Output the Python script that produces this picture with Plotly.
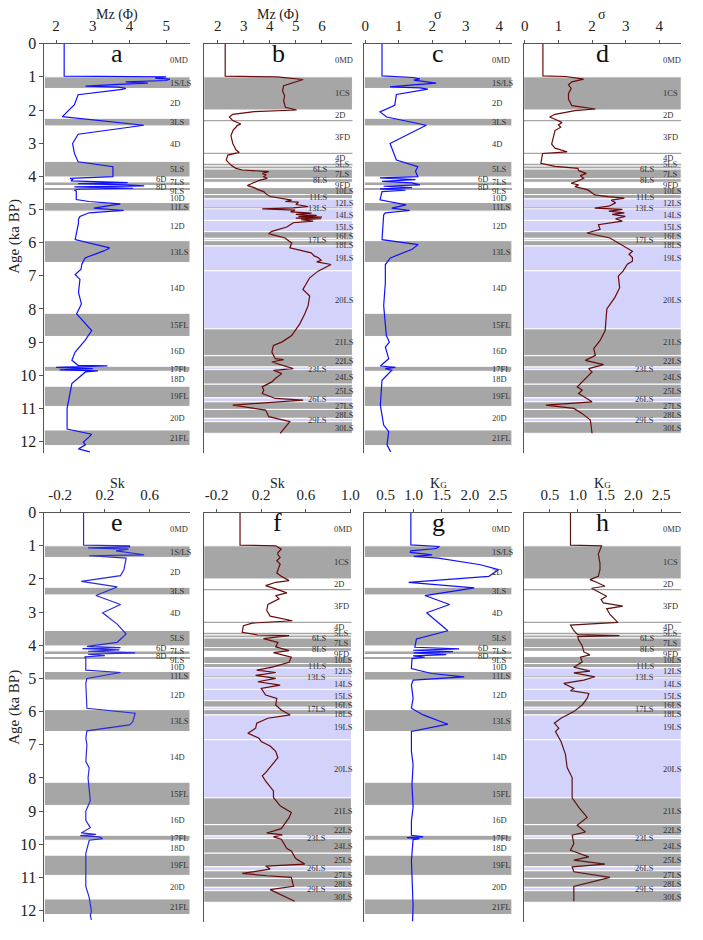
import plotly.graph_objects as go

W, H = 703, 940

# ---------------- data ----------------
# Panel a : Mz (phi), left section
a_age = [0, 0.98, 1.0, 1.04, 1.07, 1.11, 1.15, 1.19, 1.23, 1.28, 1.31, 1.35, 1.38, 1.54, 1.84, 2.2, 2.46, 2.73,
         3.01, 3.31, 3.56, 3.71, 4.01, 4.06, 4.1, 4.14, 4.19, 4.22, 4.26, 4.29, 4.32, 4.36, 4.39, 4.42, 4.45, 4.7,
         4.76, 4.83, 4.96, 5.03, 5.1, 5.21, 5.3, 5.41, 5.91, 6.16, 6.25, 6.46, 6.66, 6.8, 6.96, 7.11, 7.5, 7.85,
         8.15, 8.65, 8.95, 9.3, 9.55, 9.7, 9.72, 9.76, 9.8, 9.84, 9.87, 9.9, 10.25, 11.0, 11.62, 11.78, 11.86,
         12.02, 12.1, 12.22, 12.31]
a_val = [2.22, 2.22, 5.0, 4.7, 5.1, 5.0, 3.9, 4.5, 3.7, 2.8, 3.7, 3.9, 3.8, 2.6, 2.5, 2.17, 4.39, 2.6,
         2.45, 2.5, 2.6, 3.55, 3.55, 2.38, 2.45, 2.4, 3.95, 2.6, 3.9, 4.4, 2.5, 4.1, 2.6, 2.5, 2.55, 2.55,
         2.9, 3.75, 3.03, 3.84, 2.9, 2.65, 2.61, 2.61, 2.52, 3.46, 3.3, 2.79, 2.7, 2.68, 2.52, 2.65, 2.61, 2.69,
         2.56, 2.97, 2.79, 2.52, 2.43, 2.6, 3.4, 2.0, 3.0, 2.1, 3.14, 2.8, 2.43, 2.3, 2.3, 2.97, 2.9,
         2.74, 2.8, 2.61, 2.92]

# Panel b : Mz (phi), right section
b_age = [0, 0.98, 1.0, 1.08, 1.27, 1.42, 1.57, 1.72, 1.92, 2.0, 2.05, 2.13, 2.21, 2.32, 2.42, 2.47, 2.52, 2.6,
         2.77, 2.9, 3.01, 3.1, 3.2, 3.28, 3.36, 3.51, 3.66, 3.76, 3.81, 3.86, 3.91, 3.96, 4.01, 4.06, 4.12, 4.21,
         4.28, 4.34, 4.4, 4.46, 4.53, 4.61, 4.65, 4.68, 4.72, 4.76, 4.78, 4.85, 4.91, 4.95, 4.98, 5.02, 5.07,
         5.11, 5.15, 5.18, 5.21, 5.23, 5.26, 5.28, 5.31, 5.35, 5.4, 5.45, 5.53, 5.66, 5.73, 5.86, 6.01, 6.16,
         6.31, 6.4, 6.45, 6.53, 6.58, 6.66, 6.86, 7.06, 7.41, 7.61, 7.9, 8.15, 8.45, 8.8, 9.0, 9.1, 9.3, 9.5,
         9.53, 9.6, 9.8, 9.85, 9.95, 10.1, 10.2, 10.35, 10.45, 10.55, 10.7, 10.75, 10.9, 11.05, 11.25, 11.4, 11.75]
b_val = [2.29, 2.29, 4.28, 5.28, 4.53, 4.49, 4.57, 4.53, 4.6, 5.03, 3.4, 2.58, 2.45, 2.58, 2.89, 2.75, 2.7, 2.6,
         2.51, 2.55, 2.58, 2.64, 2.7, 2.83, 2.39, 2.33, 2.51, 2.7, 2.95, 3.96, 3.71, 3.85, 3.77, 3.9, 3.6, 3.33,
         3.14, 3.4, 3.55, 3.77, 3.85, 4.02, 4.3, 4.46, 4.84, 4.6, 5.1, 5.0, 5.47, 4.9, 3.71, 4.97, 4.8,
         5.6, 5.0, 5.8, 5.1, 6.0, 5.0, 5.97, 5.2, 5.66, 4.9, 4.8, 4.65, 4.08, 3.96, 4.58, 4.84, 4.77,
         5.59, 5.7, 5.85, 5.97, 5.8, 6.35, 5.85, 5.53, 5.27, 5.53, 5.47, 5.34, 5.15, 4.84, 4.46, 4.14, 4.08, 4.21,
         4.53, 4.08, 4.9, 4.14, 4.46, 4.21, 4.08, 3.71, 3.77, 3.71, 4.21, 5.28, 2.58, 3.84, 3.96, 4.77, 4.4]

# Panel c : sorting (sigma), left section
c_age = [0, 0.97, 1.02, 1.06, 1.1, 1.19, 1.24, 1.3, 1.33, 1.37, 1.53, 1.86, 2.06, 2.21, 2.46, 3.01, 3.51, 3.71,
         3.85, 4.01, 4.05, 4.1, 4.15, 4.2, 4.26, 4.3, 4.34, 4.38, 4.42, 4.46, 4.71, 4.86, 4.96, 5.03, 5.1, 5.16,
         5.91, 6.06, 6.2, 6.46, 6.66, 7.2, 7.9, 8.8, 9.0, 9.15, 9.5, 9.72, 9.76, 9.8, 9.85, 10.15, 10.9, 11.5,
         11.7, 12.1, 12.31]
c_val = [0.5, 0.5, 1.43, 1.63, 1.45, 2.12, 1.43, 0.74, 1.63, 1.87, 0.93, 0.88, 0.44, 0.64, 1.82, 0.74, 0.93, 1.57,
         1.5, 1.57, 0.44, 1.5, 0.5, 1.4, 1.63, 0.55, 1.4, 0.44, 1.2, 0.5, 0.44, 1.22, 0.79, 1.33, 0.6, 0.55,
         0.5, 1.58, 1.4, 0.75, 0.6, 0.6, 0.55, 0.63, 0.72, 0.6, 0.7, 0.45, 0.9, 0.6, 0.79, 0.5, 0.45, 0.55,
         0.7, 0.65, 0.76]

# Panel d : sorting (sigma), right section
d_age = [0, 0.97, 0.99, 1.07, 1.15, 1.24, 1.35, 1.5, 1.67, 1.87, 1.97, 2.02, 2.13, 2.21, 2.3, 2.38, 2.45, 2.52,
         2.62, 2.8, 3.03, 3.15, 3.26, 3.31, 3.61, 3.7, 3.76, 3.83, 3.91, 3.98, 4.06, 4.15, 4.21, 4.26, 4.31, 4.41,
         4.56, 4.61, 4.66, 4.72, 4.8, 4.9, 4.96, 5.0, 5.05, 5.1, 5.15, 5.21, 5.28, 5.35, 5.46, 5.6, 5.71, 5.86,
         6.11, 6.26, 6.35, 6.45, 6.56, 6.65, 6.86, 7.01, 7.36, 7.65, 8.0, 8.65, 8.95, 9.2, 9.4, 9.55, 9.68, 9.8,
         9.9, 10.05, 10.2, 10.35, 10.45, 10.55, 10.8, 10.9, 11.0, 11.15, 11.35, 11.75]
d_val = [0.54, 0.54, 1.22, 1.75, 1.4, 1.3, 1.38, 1.3, 1.3, 1.4, 2.1, 1.49, 0.9, 0.74, 0.95, 1.11, 1.0, 1.07,
         0.9, 0.85, 0.8, 0.9, 1.26, 0.53, 0.48, 0.9, 1.58, 1.6, 1.83, 1.65, 1.75, 1.55, 1.38, 1.6, 1.49, 1.88,
         2.08, 2.47, 2.96, 2.57, 2.7, 2.5, 2.08, 2.9, 2.5, 2.96, 2.6, 2.99, 2.7, 2.9, 2.19, 2.24, 1.85, 2.53,
         2.97, 3.2, 3.1, 3.2, 3.2, 3.05, 2.92, 2.78, 2.82, 2.68, 2.44, 2.39, 2.24, 2.05, 2.1, 1.8, 2.34, 1.9,
         2.0, 1.85, 1.7, 1.56, 1.71, 1.6, 2.0, 0.63, 1.46, 1.7, 1.95, 2.0]

# Panel e : skewness (Sk), left section
e_age = [0, 0.98, 1.0, 1.03, 1.06, 1.1, 1.15, 1.2, 1.27, 1.3, 1.37, 1.72, 1.9, 2.07, 2.24, 2.5, 2.77, 3.02, 3.36,
         3.66, 3.91, 4.03, 4.07, 4.1, 4.14, 4.18, 4.23, 4.27, 4.31, 4.35, 4.4, 4.75, 4.82, 5.0, 5.15, 5.9, 6.05,
         6.3, 6.4, 6.58, 6.8, 7.0, 7.5, 7.7, 8.0, 8.69, 9.0, 9.28, 9.5, 9.66, 9.7, 9.74, 9.78, 9.83, 9.88, 10.28,
         11.27, 11.6, 12.02, 12.15, 12.28]
e_val = [0.01, 0.01, 0.42, 0.42, 0.05, 0.41, 0.3, 0.4, 0.55, 0.06, 0.39, 0.37, 0.34, -0.01, 0.31, 0.12, 0.34, 0.18,
         0.31, 0.39, 0.31, 0.04, 0.34, 0.0, 0.33, 0.05, 0.47, 0.05, 0.2, 0.02, 0.03, 0.03, 0.34, 0.04, 0.03, 0.04,
         0.47, 0.45, 0.42, 0.04, 0.03, 0.04, 0.03, 0.06, 0.05, 0.07, 0.03, 0.03, 0.07, -0.01, 0.12, -0.02, 0.15,
         0.18, 0.06, 0.03, 0.03, 0.06, 0.08, 0.07, 0.08]

# Panel f : skewness (Sk), right section
f_age = [0, 0.98, 1.0, 1.1, 1.2, 1.27, 1.35, 1.45, 1.55, 1.7, 1.82, 1.92, 2.05, 2.1, 2.2, 2.3, 2.42, 2.5, 2.6,
         2.77, 2.95, 3.12, 3.2, 3.26, 3.33, 3.41, 3.61, 3.69, 3.71, 3.8, 3.91, 4.05, 4.16, 4.22, 4.36, 4.51, 4.66,
         4.75, 4.82, 4.91, 5.0, 5.1, 5.2, 5.3, 5.5, 5.6, 5.8, 5.95, 6.1, 6.2, 6.35, 6.5, 6.65, 6.8, 6.9, 7.04,
         7.2, 7.39, 7.84, 7.94, 8.1, 8.39, 8.59, 8.84, 9.04, 9.2, 9.53, 9.66, 9.72, 9.78, 9.85, 10.13, 10.2,
         10.43, 10.6, 10.66, 10.75, 10.88, 10.95, 11.0, 11.27, 11.37, 11.72]
f_val = [0.01, 0.01, 0.33, 0.38, 0.35, 0.35, 0.37, 0.34, 0.37, 0.35, 0.34, 0.38, 0.45, 0.33, 0.24, 0.33, 0.43, 0.33,
         0.36, 0.26, 0.25, 0.28, 0.38, 0.48, 0.12, 0.04, 0.03, 0.17, 0.45, 0.22, 0.35, 0.33, 0.45, 0.31, 0.47, 0.45,
         0.3, 0.16, 0.33, 0.15, 0.33, 0.17, 0.37, 0.2, 0.24, 0.34, 0.33, 0.38, 0.46, 0.26, 0.16, 0.15, 0.08, 0.18,
         0.2, 0.28, 0.33, 0.35, 0.24, 0.21, 0.24, 0.31, 0.31, 0.37, 0.47, 0.45, 0.38, 0.25, 0.39, 0.31, 0.38, 0.43,
         0.47, 0.51, 0.59, 0.24, 0.28, 0.03, 0.25, 0.47, 0.49, 0.28, 0.5]

# Panel g : kurtosis (KG), left section
g_age = [0, 0.97, 1.02, 1.08, 1.15, 1.2, 1.27, 1.32, 1.37, 1.57, 1.72, 1.92, 2.1, 2.27, 2.5, 2.77, 3.02, 3.56, 3.81,
         4.06, 4.11, 4.15, 4.19, 4.23, 4.28, 4.32, 4.36, 4.4, 4.7, 4.85, 4.95, 5.05, 5.2, 5.6, 5.9, 6.1, 6.38, 6.6,
         7.2, 7.6, 8.2, 8.88, 9.3, 9.73, 9.78, 9.8, 9.83, 9.86, 10.5, 11.0, 11.87, 12.32]
g_val = [0.95, 0.95, 1.46, 1.4, 0.95, 0.94, 1.33, 1.0, 1.44, 2.19, 2.51, 2.34, 0.91, 2.08, 1.2, 1.64, 1.23, 1.61, 1.05,
         1.02, 1.81, 0.99, 1.7, 1.0, 1.58, 0.99, 1.2, 0.97, 0.96, 1.32, 1.9, 0.99, 0.96, 0.99, 0.96, 1.17, 1.61, 0.96,
         0.96, 0.99, 0.97, 0.99, 0.96, 0.96, 1.17, 0.88, 1.1, 0.99, 0.96, 0.97, 0.99, 0.98]

# Panel h : kurtosis (KG), right section
h_age = [0, 0.98, 1.0, 1.12, 1.25, 1.52, 1.72, 1.92, 2.02, 2.1, 2.22, 2.28, 2.4, 2.52, 2.62, 2.72, 2.82, 2.9, 3.07,
         3.2, 3.31, 3.39, 3.56, 3.68, 3.71, 3.74, 3.85, 4.01, 4.2, 4.29, 4.36, 4.5, 4.66, 4.78, 4.83, 4.95, 5.05,
         5.15, 5.3, 5.37, 5.45, 5.6, 5.8, 6.0, 6.2, 6.35, 6.5, 6.6, 6.75, 6.9, 7.29, 7.69, 7.99, 8.6, 8.89, 9.19,
         9.43, 9.63, 9.73, 9.98, 10.18, 10.38, 10.48, 10.6, 10.68, 10.83, 11.0, 11.27, 11.72]
h_val = [0.87, 0.87, 1.43, 1.4, 1.37, 1.4, 1.4, 1.37, 1.22, 1.34, 1.49, 1.25, 1.4, 1.52, 1.42, 1.46, 1.81, 1.52, 1.58,
         1.65, 1.72, 0.87, 0.93, 1.0, 1.75, 1.0, 1.02, 1.08, 1.11, 1.22, 1.05, 1.08, 0.93, 1.22, 0.93, 1.31, 1.11,
         0.75, 0.93, 0.87, 1.2, 1.17, 1.08, 0.93, 0.7, 0.58, 0.66, 0.6, 0.65, 0.7, 0.78, 0.81, 0.9, 0.9, 1.02, 1.17,
         0.99, 1.14, 0.9, 0.93, 0.87, 1.2, 0.93, 1.49, 0.9, 0.93, 1.58, 0.93, 0.93]

# Stratigraphic units, left-hand sections (a, c, e, g)
unitL_name = ["0MD", "1S/LS", "2D", "3LS", "4D", "5LS", "6D", "7LS", "8D", "9LS", "10D", "11LS", "12D", "13LS",
              "14D", "15FL", "16D", "17FL", "18D", "19FL", "20D", "21FL"]
unitL_top = [0, 1.0, 1.35, 2.25, 2.48, 3.55, 4.02, 4.17, 4.28, 4.36, 4.40, 4.79, 5.05, 5.94, 6.6, 8.13, 8.83, 9.73,
             9.88, 10.33, 10.94, 11.65]
unitL_base = [1.0, 1.35, 2.25, 2.48, 3.55, 4.02, 4.17, 4.28, 4.36, 4.40, 4.79, 5.05, 5.94, 6.6, 8.13, 8.83, 9.73,
              9.88, 10.33, 10.94, 11.65, 12.12]
unitL_kind = ["w", "g", "w", "g", "w", "g", "w", "g", "w", "gl", "w", "g", "w", "g", "w", "g", "w", "g", "w", "g",
              "w", "g"]
unitL_leftlabel = ["6D", "8D"]
unitL_labely = {"6D": 4.07, "7LS": 4.17, "8D": 4.33, "9LS": 4.43, "10D": 4.64, "11LS": 4.93}

# Stratigraphic units, right-hand sections (b, d, f, h)
unitR_name = ["0MD", "1CS", "2D", "3FD", "4D", "5LS", "6LS", "7LS", "8LS", "9FD", "10LS", "11LS", "12LS", "13LS",
              "14LS", "15LS", "16LS", "17LS", "18LS", "19LS", "20LS", "21LS", "22LS", "23LS", "24LS", "25LS",
              "26LS", "27LS", "28LS", "29LS", "30LS"]
unitR_top = [0, 1.0, 2.0, 2.32, 3.31, 3.64, 3.69, 3.78, 4.07, 4.18, 4.34, 4.55, 4.68, 4.94, 4.98, 5.33, 5.67, 5.87,
             5.94, 6.1, 6.85, 8.6, 9.41, 9.75, 9.83, 10.27, 10.68, 10.8, 11.03, 11.3, 11.4]
unitR_base = [1.0, 2.0, 2.32, 3.31, 3.64, 3.69, 3.78, 4.07, 4.18, 4.34, 4.55, 4.68, 4.94, 4.98, 5.33, 5.67, 5.87,
              5.94, 6.1, 6.85, 8.6, 9.41, 9.75, 9.83, 10.27, 10.68, 10.8, 11.03, 11.3, 11.4, 11.75]
unitR_kind = ["w", "g", "w", "w", "w", "wl", "g", "g", "g", "w", "g", "g", "p", "gl", "p", "p", "g", "p", "g", "p",
              "p", "g", "g", "p", "g", "g", "p", "g", "g", "p", "g"]
unitR_leftlabel = ["6LS", "8LS", "11LS", "13LS", "17LS", "23LS", "26LS", "29LS"]
unitR_labely = {"4D": 3.45, "5LS": 3.64, "6LS": 3.77, "7LS": 3.93, "8LS": 4.12, "9FD": 4.26, "10LS": 4.45,
                "11LS": 4.63, "12LS": 4.79, "13LS": 4.95, "15LS": 5.53, "16LS": 5.79, "17LS": 5.93, "18LS": 6.07,
                "23LS": 9.8, "26LS": 10.73, "28LS": 11.2, "29LS": 11.36, "30LS": 11.6}

age_ticks = list(range(0, 13))

# ---------------- styling ----------------
BLUE = "#1010ff"
MAROON = "#6a0a0a"
GRAY = "#a6a6a6"
LAV = "#d2d2fa"
AX = "#555555"
FONT = "Liberation Serif"

panels = [
    dict(letter="a", px=(42, 190), row=0, rng=[1.68, 5.65], tv=[2, 3, 4, 5], tt=["2", "3", "4", "5"],
         title="Mz (Φ)", unit="L", color=BLUE, x=a_val, y=a_age),
    dict(letter="b", px=(204, 355), row=0, rng=[1.47, 7.17], tv=[2, 3, 4, 5, 6], tt=["2", "3", "4", "5", "6"],
         title="Mz (Φ)", unit="R", color=MAROON, x=b_val, y=b_age),
    dict(letter="c", px=(367, 517), row=0, rng=[-0.03, 4.38], tv=[0, 1, 2, 3, 4], tt=["0", "1", "2", "3", "4"],
         title="σ", unit="L", color=BLUE, x=c_val, y=c_age),
    dict(letter="d", px=(529, 689), row=0, rng=[-0.03, 4.65], tv=[0, 1, 2, 3, 4], tt=["0", "1", "2", "3", "4"],
         title="σ", unit="R", color=MAROON, x=d_val, y=d_age),
    dict(letter="e", px=(42, 190), row=1, rng=[-0.34, 0.96], tv=[-0.2, 0.2, 0.6], tt=["-0.2", "0.2", "0.6"],
         title="Sk", unit="L", color="#2a2ae0", x=e_val, y=e_age),
    dict(letter="f", px=(204, 354), row=1, rng=[-0.315, 1.01], tv=[-0.2, 0.2, 0.6, 1.0],
         tt=["-0.2", "0.2", "0.6", "1.0"], title="Sk", unit="R", color=MAROON, x=f_val, y=f_age),
    dict(letter="g", px=(367, 517), row=1, rng=[0.12, 2.75], tv=[0.5, 1.0, 1.5, 2.0, 2.5],
         tt=["0.5", "1.0", "1.5", "2.0", "2.5"], title="K<span style='font-size:9px'>G</span>", unit="L",
         color=BLUE, x=g_val, y=g_age),
    dict(letter="h", px=(529, 689), row=1, rng=[0.03, 2.86], tv=[0.5, 1.0, 1.5, 2.0, 2.5],
         tt=["0.5", "1.0", "1.5", "2.0", "2.5"], title="K<span style='font-size:9px'>G</span>", unit="R",
         color="#5a1515", x=h_val, y=h_age),
]

rows_py = [(36, 449), (509, 922)]
YR = [12.35, 0]

fig = go.Figure()
layout = dict(width=W, height=H, margin=dict(l=0, r=0, t=0, b=0), paper_bgcolor="white",
              plot_bgcolor="white", showlegend=False, font=dict(family=FONT, color="#222"))
shapes, annos = [], []

for i, p in enumerate(panels):
    n = i + 1
    sfx = "" if n == 1 else str(n)
    xa, ya = "x" + sfx, "y" + sfx
    x0, x1 = p["px"]
    t, b = rows_py[p["row"]]
    first_col = x0 == 42
    fig.add_trace(go.Scatter(x=p["x"], y=p["y"], mode="lines", line=dict(color=p["color"], width=1.2),
                             xaxis=xa, yaxis=ya, hoverinfo="skip"))
    layout["xaxis" + sfx] = dict(domain=[x0 / W, x1 / W], range=p["rng"], side="top", anchor=ya,
                                 showline=True, linecolor=AX, linewidth=1, ticks="outside", ticklen=3,
                                 tickcolor=AX, tickvals=p["tv"], ticktext=p["tt"], showgrid=False,
                                 zeroline=False, ticklabelstandoff=3,
                                 tickfont=dict(size=15, family=FONT, color="#222"))
    layout["yaxis" + sfx] = dict(domain=[1 - b / H, 1 - t / H], range=YR, anchor=xa, showline=True,
                                 linecolor=AX, linewidth=1, showgrid=False, zeroline=False,
                                 ticks="outside" if first_col else "", ticklen=4, tickcolor=AX,
                                 tickvals=age_ticks, showticklabels=first_col,
                                 tickfont=dict(size=16, family=FONT, color="#222"))
    # units
    if p["unit"] == "L":
        names, tops, bases, kinds, lefts, ly = (unitL_name, unitL_top, unitL_base, unitL_kind,
                                                unitL_leftlabel, unitL_labely)
        lx, lxl = 0.858, 0.845
    else:
        names, tops, bases, kinds, lefts, ly = (unitR_name, unitR_top, unitR_base, unitR_kind,
                                                unitR_leftlabel, unitR_labely)
        lx, lxl = 0.878, 0.835
    xd = xa + " domain"
    for k in range(len(names)):
        kind = kinds[k]
        y0, y1 = tops[k], bases[k]
        if kind in ("g", "p"):
            shapes.append(dict(type="rect", xref=xd, yref=ya, x0=0, x1=1, y0=y0, y1=y1,
                               fillcolor=GRAY if kind == "g" else LAV, line=dict(color="white", width=1),
                               layer="below"))
        elif kind == "gl":
            yc = (y0 + y1) / 2
            shapes.append(dict(type="line", xref=xd, yref=ya, x0=0, x1=1, y0=yc, y1=yc,
                               line=dict(color=GRAY, width=2), layer="below"))
        else:
            if k > 0 and kinds[k - 1] in ("w", "wl"):
                shapes.append(dict(type="line", xref=xd, yref=ya, x0=0, x1=1, y0=y0, y1=y0,
                                   line=dict(color=GRAY, width=1.2), layer="below"))
            if kind == "wl":
                shapes.append(dict(type="line", xref=xd, yref=ya, x0=0, x1=1, y0=y1, y1=y1,
                                   line=dict(color=GRAY, width=1.2), layer="below"))
        yl = ly.get(names[k], (y0 + y1) / 2)
        left = names[k] in lefts
        annos.append(dict(text=names[k], xref=xd, yref=ya, x=lxl if left else lx, y=yl,
                          xanchor="right" if left else "left", yanchor="middle", showarrow=False,
                          borderpad=0, font=dict(size=8.5, family=FONT, color="#333")))
    # panel letter
    annos.append(dict(text=p["letter"], xref=xd, yref=ya, x=0.5, y=0.3, xanchor="center", yanchor="middle",
                      showarrow=False, font=dict(size=26, family=FONT, color="#111")))
    # title
    annos.append(dict(text=p["title"], xref="paper", yref="paper", x=(x0 + x1) / 2 / W, y=1 - (t - 29) / H,
                      xanchor="center", yanchor="middle", showarrow=False,
                      font=dict(size=14, family=FONT, color="#222")))

for cy in (230, 705):
    annos.append(dict(text="Age (ka BP)", xref="paper", yref="paper", x=11 / W, y=1 - cy / H, textangle=-90,
                      xanchor="center", yanchor="middle", showarrow=False,
                      font=dict(size=15, family=FONT, color="#222")))

layout["shapes"] = shapes
layout["annotations"] = annos
fig.update_layout(**layout)
fig.write_html("out.html")
